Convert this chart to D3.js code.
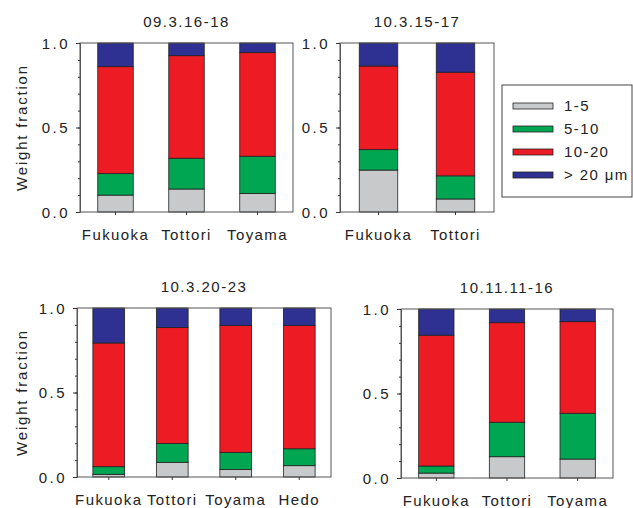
<!DOCTYPE html>
<html>
<head>
    <meta charset="UTF-8">
    <title>Weight fraction</title>
    <style>
        body { margin: 0; background: #fff; }
        svg text { font-family: "Liberation Sans", Arial, sans-serif; fill: #222; }
    </style>
</head>
<body>
    <div id="graph-container"></div>

    <script src="https://cdn.jsdelivr.net/npm/d3@7"></script>
    <script>
        // size bins (legend order = stack order, bottom to top)
        const sizeBins = ["1-5", "5-10", "10-20", "> 20 \u03bcm"];

        // panel titles
        const titles = ["09.3.16-18", "10.3.15-17", "10.3.20-23", "10.11.11-16"];

        // sites per panel
        const sites1 = ["Fukuoka", "Tottori", "Toyama"];
        const sites2 = ["Fukuoka", "Tottori"];
        const sites3 = ["Fukuoka", "Tottori", "Toyama", "Hedo"];
        const sites4 = ["Fukuoka", "Tottori", "Toyama"];

        // weight fractions per site: [1-5, 5-10, 10-20, >20]
        const frac1 = [
            [0.100, 0.127, 0.633, 0.140],
            [0.136, 0.182, 0.607, 0.075],
            [0.110, 0.220, 0.613, 0.057]
        ];
        const frac2 = [
            [0.248, 0.121, 0.495, 0.136],
            [0.077, 0.137, 0.613, 0.173]
        ];
        const frac3 = [
            [0.016, 0.045, 0.732, 0.207],
            [0.087, 0.112, 0.685, 0.116],
            [0.045, 0.101, 0.750, 0.104],
            [0.067, 0.100, 0.729, 0.104]
        ];
        const frac4 = [
            [0.029, 0.042, 0.774, 0.155],
            [0.126, 0.204, 0.589, 0.081],
            [0.112, 0.271, 0.542, 0.075]
        ];

        const yTicks = [0, 0.5, 1.0];

        const colors = ["#c8c9cb", "#00a651", "#ed1c24", "#2e3192"];

        const W = 633, H = 508;

        const svg = d3.select("#graph-container")
            .append("svg")
            .attr("width", W)
            .attr("height", H);

        // panel frames (pixel boxes)
        const panels = [
            { title: titles[0], sites: sites1, frac: frac1, x: 80, y: 43, w: 213, h: 169, ylab: true },
            { title: titles[1], sites: sites2, frac: frac2, x: 340, y: 43, w: 154, h: 169, ylab: false },
            { title: titles[2], sites: sites3, frac: frac3, x: 77, y: 308, w: 254, h: 169, ylab: true },
            { title: titles[3], sites: sites4, frac: frac4, x: 401, y: 309, w: 212, h: 169, ylab: false }
        ];

        panels.forEach(p => {
            const g = svg.append("g")
                .attr("transform", `translate(${p.x},${p.y})`);

            const x = d3.scaleBand()
                .domain(p.sites)
                .range([0, p.w])
                .paddingInner(0.5)
                .paddingOuter(0.25);

            const y = d3.scaleLinear()
                .domain([0, 1])
                .range([p.h, 0]);

            // stack the fractions
            const rows = p.sites.map((s, i) => {
                const r = { site: s };
                sizeBins.forEach((b, j) => r[b] = p.frac[i][j]);
                return r;
            });
            const series = d3.stack().keys(sizeBins)(rows);

            g.selectAll(".layer")
                .data(series)
                .join("g")
                .attr("fill", (d, i) => colors[i])
                .selectAll("rect")
                .data(d => d)
                .join("rect")
                .attr("x", d => x(d.data.site))
                .attr("width", x.bandwidth())
                .attr("y", d => y(d[1]))
                .attr("height", d => y(d[0]) - y(d[1]))
                .attr("stroke", "#222")
                .attr("stroke-width", 0.8);

            // frame
            g.append("rect")
                .attr("x", 0)
                .attr("y", 0)
                .attr("width", p.w)
                .attr("height", p.h)
                .attr("fill", "none")
                .attr("stroke", "#555")
                .attr("stroke-width", 1);

            // minor ticks
            g.append("g")
                .call(d3.axisLeft(y).tickValues(d3.range(0, 11).map(k => k / 10)).tickSize(2).tickFormat(""))
                .call(a => a.select(".domain").remove())
                .selectAll("line").attr("stroke", "#333");

            // major ticks + labels
            const ya = g.append("g")
                .call(d3.axisLeft(y).tickValues(yTicks).tickSize(4).tickFormat(d3.format(".1f")));
            ya.select(".domain").attr("stroke", "#555");
            ya.selectAll("line").attr("stroke", "#333");
            ya.selectAll("text")
                .attr("x", -10)
                .attr("dy", "0.36em")
                .style("font-size", "15px")
                .style("letter-spacing", "2.5px");

            // x axis
            const xa = g.append("g")
                .attr("transform", `translate(0,${p.h})`)
                .call(d3.axisBottom(x).tickSize(3));
            xa.select(".domain").remove();
            xa.selectAll("line").attr("stroke", "#333");
            xa.selectAll("text")
                .attr("y", 17)
                .attr("dy", "0.71em")
                .style("font-size", "15px")
                .style("letter-spacing", "1.4px");

            // title
            g.append("text")
                .attr("x", p.w / 2)
                .attr("y", -16)
                .attr("text-anchor", "middle")
                .style("font-size", "15px")
                .style("letter-spacing", "1.5px")
                .text(p.title);

            if (p.ylab) {
                g.append("text")
                    .attr("transform", "rotate(-90)")
                    .attr("x", -p.h / 2)
                    .attr("y", -p.x + 27)
                    .attr("text-anchor", "middle")
                    .style("font-size", "15px")
                    .style("letter-spacing", "1.8px")
                    .text("Weight fraction");
            }
        });

        // legend
        const lg = svg.append("g").attr("transform", "translate(502,85)");
        lg.append("rect")
            .attr("width", 130)
            .attr("height", 112)
            .attr("fill", "#fff")
            .attr("stroke", "#444")
            .attr("stroke-width", 1);

        const items = lg.selectAll(".item")
            .data(sizeBins)
            .join("g")
            .attr("transform", (d, i) => `translate(11,${21 + i * 23})`);

        items.append("rect")
            .attr("x", 0)
            .attr("y", -3)
            .attr("width", 40)
            .attr("height", 6)
            .attr("fill", (d, i) => colors[i])
            .attr("stroke", "#222")
            .attr("stroke-width", 0.8);

        items.append("text")
            .attr("x", 51)
            .attr("dy", "0.36em")
            .style("font-size", "15px")
            .style("letter-spacing", "1.4px")
            .text(d => d);
    </script>
</body>
</html>
